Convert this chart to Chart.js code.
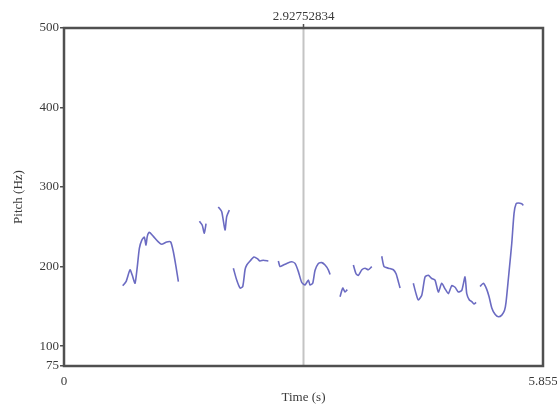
<!DOCTYPE html>
<html>
<head>
<meta charset="utf-8">
<script src="https://cdn.jsdelivr.net/npm/chart.js@4/dist/chart.umd.min.js"></script>
<style>
  html, body { margin: 0; padding: 0; background: #fff; }
  #wrap { width: 557px; height: 410px; }
</style>
</head>
<body>
<div id="wrap"><canvas id="pitch"></canvas></div>
<script>
// pitch contour, null = unvoiced gap
const timeS = [
  0.718, 0.758, 0.807, 0.835, 0.868, 0.896, 0.921, 0.950, 0.982, 1.002, 1.018, 1.043, 1.092, 1.153, 1.194, 1.256, 1.304, 1.336, 1.369, 1.398, null,
  1.655, 1.690, 1.715, 1.736, null,
  1.886, 1.928, 1.968, 1.989, 2.021, null,
  2.070, 2.111, 2.152, 2.185, 2.213, 2.234, 2.274, 2.323, 2.363, 2.396, 2.436, 2.498, null,
  2.620, 2.641, 2.681, 2.723, 2.784, 2.824, 2.864, 2.906, 2.946, 2.987, 3.007, 3.040, 3.068, 3.109, 3.150, 3.191, 3.231, 3.252, null,
  3.374, 3.407, 3.435, 3.463, null,
  3.537, 3.570, 3.598, 3.641, 3.680, 3.720, 3.762, null,
  3.884, 3.912, 3.965, 4.026, 4.059, 4.087, 4.108, null,
  4.270, 4.303, 4.331, 4.373, 4.413, 4.453, 4.495, 4.535, 4.576, 4.617, 4.658, 4.698, 4.740, 4.780, 4.820, 4.862, 4.902, 4.923, 4.955, 4.984, 5.012, 5.037, null,
  5.086, 5.126, 5.165, 5.196, 5.229, 5.269, 5.309, 5.351, 5.385, 5.403, 5.432, 5.446, 5.473, 5.501, 5.526, 5.554, 5.595, 5.615
];
const pitchHz = [
  176, 181, 196, 189, 179, 200, 223, 233, 237, 227, 238, 243, 238, 231, 228, 231, 231, 219, 200, 181, null,
  257, 252, 242, 254, null,
  275, 269, 246, 263, 271, null,
  198, 183, 173, 175, 196, 202, 207, 212, 210, 207, 208, 207, null,
  207, 200, 202, 204, 206, 204, 194, 180, 177, 183, 177, 179, 195, 204, 205, 202, 196, 190, null,
  162, 173, 168, 171, null,
  202, 191, 189, 196, 198, 196, 200, null,
  213, 200, 198, 196, 191, 181, 173, null,
  179, 166, 158, 164, 187, 189, 185, 183, 168, 179, 172, 166, 176, 174, 168, 170, 187, 166, 158, 156, 153, 155, null,
  175, 179, 172, 162, 148, 140, 137, 139, 145, 155, 185, 200, 229, 267, 279, 280, 279, 277
];
const yTicks = [75, 100, 200, 300, 400, 500];
const xTicks = [0, 5.855];
const cursorTime = 2.92752834;

const serif = 'Liberation Serif, Times New Roman, serif';
const inkColor = '#3a3a3a';

const frameAndCursor = {
  id: 'frameAndCursor',
  beforeDatasetsDraw(chart) {
    const { ctx, chartArea: a, scales } = chart;
    const cx = scales.x.getPixelForValue(cursorTime);
    ctx.save();
    ctx.strokeStyle = '#c4c4c4';
    ctx.lineWidth = 2;
    ctx.beginPath();
    ctx.moveTo(cx, a.top);
    ctx.lineTo(cx, a.bottom);
    ctx.stroke();
    ctx.restore();
  },
  afterDraw(chart) {
    const { ctx, chartArea: a, scales } = chart;
    const cx = scales.x.getPixelForValue(cursorTime);
    ctx.save();
    ctx.strokeStyle = '#505050';
    ctx.lineWidth = 2.5;
    ctx.strokeRect(a.left, a.top, a.right - a.left, a.bottom - a.top);
    ctx.lineWidth = 1.5;
    ctx.beginPath();
    ctx.moveTo(cx, a.top - 4);
    ctx.lineTo(cx, a.top);
    ctx.stroke();
    ctx.fillStyle = inkColor;
    ctx.font = '13px ' + serif;
    ctx.textAlign = 'center';
    ctx.textBaseline = 'alphabetic';
    ctx.fillText(String(cursorTime), cx, a.top - 8);
    ctx.restore();
  }
};

new Chart(document.getElementById('pitch'), {
  type: 'line',
  data: {
    datasets: [{
      label: 'Pitch',
      data: timeS.map((t, i) => ({ x: t === null ? NaN : t, y: pitchHz[i] === null ? NaN : pitchHz[i] })),
      borderColor: '#6b6bc2',
      borderWidth: 1.6,
      pointRadius: 0,
      tension: 0.2,
      spanGaps: false,
      fill: false
    }]
  },
  options: {
    responsive: true,
    maintainAspectRatio: false,
    animation: false,
    layout: { padding: { left: 0, right: 14, top: 28, bottom: 0 } },
    plugins: { legend: { display: false }, tooltip: { enabled: false } },
    scales: {
      x: {
        type: 'linear', min: 0, max: 5.855,
        afterBuildTicks: s => { s.ticks = xTicks.map(v => ({ value: v })); },
        afterFit: s => { s.height = 44; s.paddingLeft = 0; s.paddingRight = 0; },
        grid: { drawOnChartArea: false, drawTicks: false },
        border: { display: false },
        ticks: { color: inkColor, font: { family: serif, size: 13 }, padding: 8, maxRotation: 0, autoSkip: false, callback: v => String(v) },
        title: { display: true, text: 'Time (s)', color: inkColor, font: { family: serif, size: 13 }, padding: { top: 2, bottom: 5 } }
      },
      y: {
        type: 'linear', min: 75, max: 500,
        afterBuildTicks: s => { s.ticks = yTicks.map(v => ({ value: v })); },
        afterFit: s => { s.width = 64; s.paddingTop = 0; s.paddingBottom = 0; },
        grid: { drawOnChartArea: false, drawTicks: true, tickLength: 4, color: '#505050', lineWidth: 1.5 },
        border: { display: false },
        ticks: { color: inkColor, font: { family: serif, size: 13 }, padding: 1, autoSkip: false, callback: v => String(v) },
        title: { display: true, text: 'Pitch (Hz)', color: inkColor, font: { family: serif, size: 13 }, padding: { top: 11, bottom: 4 } }
      }
    }
  },
  plugins: [frameAndCursor]
});
</script>
</body>
</html>
